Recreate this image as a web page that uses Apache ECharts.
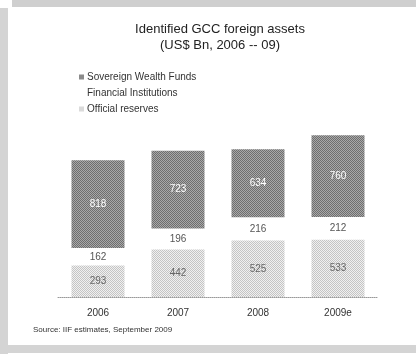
<!DOCTYPE html>
<html>
<head>
<meta charset="utf-8">
<script src="https://cdn.jsdelivr.net/npm/echarts@6/dist/echarts.min.js"></script>
<style>
  html, body { margin: 0; padding: 0; background: #fff; }
  #chart { width: 416px; height: 354px; }
</style>
</head>
<body>
<div id="chart"></div>
<script>
// 数据
const years = ['2006', '2007', '2008', '2009e'];
const officialReserves = [293, 442, 525, 533];
const financialInstitutions = [162, 196, 216, 212];
const sovereignWealthFunds = [818, 723, 634, 760];

// 抖动纹理，模仿扫描的灰度
function makeDither(c1, c2) {
    const cv = document.createElement('canvas');
    cv.width = 4;
    cv.height = 4;
    const ctx = cv.getContext('2d');
    for (let y = 0; y < 4; y++) {
        for (let x = 0; x < 4; x++) {
            ctx.fillStyle = (x + y) % 2 === 0 ? c1 : c2;
            ctx.fillRect(x, y, 1, 1);
        }
    }
    return { image: cv, repeat: 'repeat' };
}

const darkFill = makeDither('#6e6e6e', '#a8a8a8');
const lightFill = makeDither('#c4c4c4', '#f0f0f0');

const chart = echarts.init(document.getElementById('chart'));
const font = 'Liberation Sans, Arial, sans-serif';

const option = {
    animation: false,
    backgroundColor: '#fff',
    title: {
        text: 'Identified GCC foreign assets\n(US$ Bn, 2006 -- 09)',
        left: 215,
        top: 16,
        textAlign: 'center',
        textStyle: {
            fontFamily: font,
            fontSize: 13,
            fontWeight: 'normal',
            color: '#222',
            lineHeight: 16
        }
    },
    legend: {
        orient: 'vertical',
        left: 74,
        top: 67,
        itemWidth: 5,
        itemHeight: 5,
        itemGap: 6,
        icon: 'rect',
        data: ['Sovereign Wealth Funds', 'Financial Institutions', 'Official reserves'],
        textStyle: { fontFamily: font, fontSize: 10, color: '#333', padding: [0, 0, 0, -2] }
    },
    grid: {
        left: 58,
        right: 38,
        top: 125,
        bottom: 57
    },
    xAxis: {
        type: 'category',
        data: years,
        axisLine: { lineStyle: { color: '#999', type: 'dotted', width: 1 } },
        axisTick: { show: false },
        axisLabel: { fontFamily: font, fontSize: 10, color: '#333', margin: 11 }
    },
    yAxis: {
        type: 'value',
        min: 0,
        max: 1600,
        show: false,
        splitLine: { show: false }
    },
    series: [
        {
            name: 'Official reserves',
            type: 'bar',
            stack: 'total',
            barWidth: 53,
            data: officialReserves,
            itemStyle: { color: lightFill },
            label: {
                show: true,
                position: 'inside',
                fontFamily: font,
                fontSize: 10,
                color: '#666'
            }
        },
        {
            name: 'Financial Institutions',
            type: 'bar',
            stack: 'total',
            barWidth: 53,
            data: financialInstitutions,
            itemStyle: { color: 'rgba(255,255,255,0)' },
            label: {
                show: true,
                position: 'inside',
                fontFamily: font,
                fontSize: 10,
                color: '#555'
            }
        },
        {
            name: 'Sovereign Wealth Funds',
            type: 'bar',
            stack: 'total',
            barWidth: 53,
            data: sovereignWealthFunds,
            itemStyle: { color: darkFill },
            label: {
                show: true,
                position: 'inside',
                fontFamily: font,
                fontSize: 10,
                color: '#fff'
            }
        }
    ],
    graphic: [
        // 扫描边框
        { type: 'rect', shape: { x: 12, y: 0, width: 404, height: 7 }, style: { fill: '#cfcfcf' }, silent: true },
        { type: 'rect', shape: { x: 0, y: 8, width: 8, height: 346 }, style: { fill: '#d4d4d4' }, silent: true },
        { type: 'rect', shape: { x: 8, y: 345, width: 408, height: 8 }, style: { fill: '#d4d4d4' }, silent: true },
        {
            type: 'text',
            left: 33,
            top: 326,
            style: {
                text: 'Source: IIF estimates, September 2009',
                fontFamily: font,
                fontSize: 8,
                fill: '#333'
            }
        }
    ]
};

chart.setOption(option);
</script>
</body>
</html>
